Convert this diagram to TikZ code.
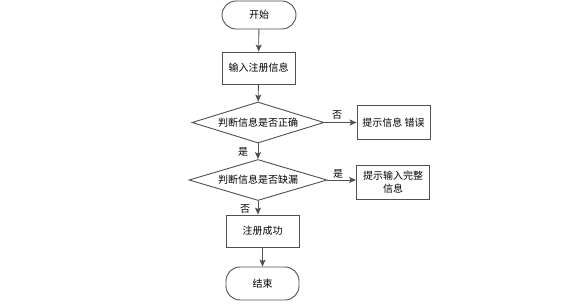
\documentclass[tikz,border=0pt]{standalone}
\usepackage{fontspec}
\newfontfamily\cjk{Noto Sans CJK SC}
\usetikzlibrary{shapes.geometric,arrows.meta}
\definecolor{edge}{HTML}{505050}
\tikzset{
  every node/.style={font=\cjk\fontsize{10}{13}\selectfont, text=black},
  procbox/.style={draw=edge, line width=0.9pt, fill=white, minimum width=73pt, minimum height=32pt, inner sep=1pt, align=center},
  termbox/.style={draw=edge, line width=0.9pt, fill=white, rounded corners=14pt, inner sep=0pt},
  decbox/.style={draw=edge, line width=0.9pt, fill=white, diamond, aspect=3.2, inner sep=0pt, minimum height=41pt},
  conn/.style={draw=edge, line width=0.9pt, -{Stealth[length=7pt,width=6pt,inset=1.5pt]}},
  lbl/.style={inner sep=0pt}
}
\begin{document}
\begin{tikzpicture}[x=1pt,y=-1pt]
\useasboundingbox (0,0) rectangle (586,307);
\node[termbox, minimum width=74pt, minimum height=28pt] (start) at (259,15) {开始};
\node[procbox] (input) at (258.5,68) {输入注册信息};
\node[decbox, minimum width=132pt] (d1) at (258,122.5) {判断信息是否正确};
\node[procbox, minimum height=34pt] (err) at (393.5,122.5) {提示信息 错误};
\node[decbox, minimum width=138pt] (d2) at (258,180) {判断信息是否缺漏};
\node[procbox, minimum height=34pt, text width=70pt] (full) at (393,182.5) {提示输入完整\\信息};
\node[procbox] (ok) at (262.5,231) {注册成功};
\node[termbox, minimum width=73pt, minimum height=33pt] (stop) at (262.5,283.5) {结束};

\draw[conn] (start) -- (input);
\draw[conn] (input) -- (d1);
\draw[conn] (d1.east) -- (err.west |- d1.east);
\draw[conn] (d1) -- (d2);
\draw[conn] (d2.east) -- (full.west |- d2.east);
\draw[conn] (d2.south) -- (d2.south |- ok.north);
\draw[conn] (ok) -- (stop);

\node[lbl] (l1) at (337,115) {否};
\node[lbl] (l2) at (243,152) {是};
\node[lbl] (l3) at (338,174) {是};
\node[lbl] (l4) at (245,209) {否};
\end{tikzpicture}
\end{document}
